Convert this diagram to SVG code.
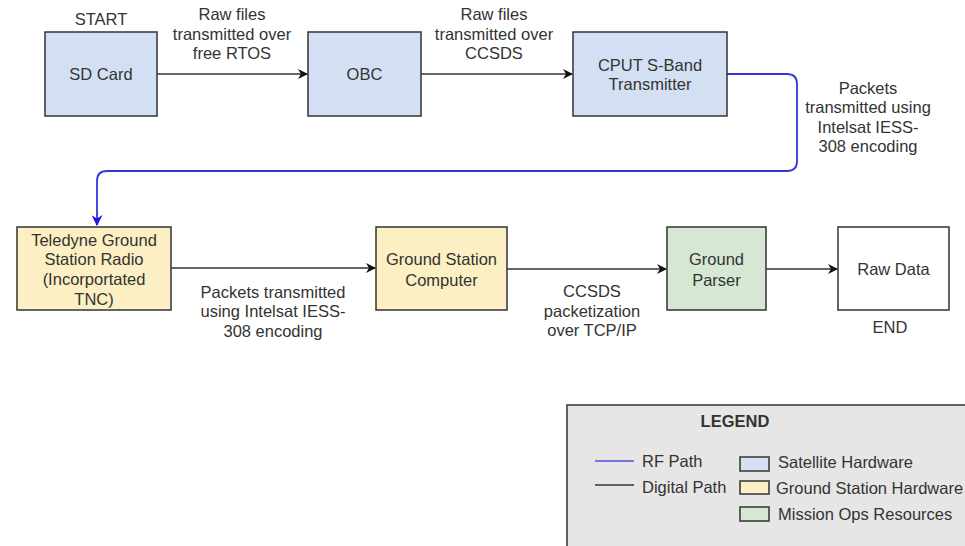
<svg xmlns="http://www.w3.org/2000/svg" width="965" height="546" viewBox="0 0 965 546">
<style>
text{font-family:"Liberation Sans",Arial,sans-serif;font-size:16.5px;fill:#333;text-anchor:middle;dominant-baseline:central}
.n{stroke:#333;stroke-width:1.5}
.sat{fill:#d3e0f3}
.gs{fill:#fbefc3}
.mo{fill:#d6e8d4}
.w{fill:#fff}
.dig{fill:none;stroke:#333;stroke-width:1.5}
.rf{fill:none;stroke:#3535dd;stroke-width:1.8}
.l{text-anchor:start}
</style>
<defs>
<marker id="ab" viewBox="0 0 10 10" refX="9" refY="5" markerWidth="10" markerHeight="10" markerUnits="userSpaceOnUse" orient="auto"><path d="M0,0 L10,5 L0,10 L3,5 Z" fill="#111"/></marker>
<marker id="ar" viewBox="0 0 10 10" refX="9" refY="5" markerWidth="11" markerHeight="11" markerUnits="userSpaceOnUse" orient="auto"><path d="M0,0 L10,5 L0,10 L3,5 Z" fill="#1a1add"/></marker>
</defs>
<rect width="965" height="546" fill="#fff"/>
<g id="connectors">
<line class="dig" x1="157" y1="74" x2="307" y2="74" marker-end="url(#ab)"/>
<line class="dig" x1="421" y1="74" x2="572" y2="74" marker-end="url(#ab)"/>
<path class="rf" d="M727,74 H787 Q797,74 797,84 V161 Q797,171 787,171 H107 Q97,171 97,181 V225" marker-end="url(#ar)"/>
<line class="dig" x1="171" y1="268" x2="375" y2="268" marker-end="url(#ab)"/>
<line class="dig" x1="507" y1="269" x2="666" y2="269" marker-end="url(#ab)"/>
<line class="dig" x1="766" y1="269" x2="837" y2="269" marker-end="url(#ab)"/>
<text x="232" y="14">Raw files</text>
<text x="232" y="34">transmitted over</text>
<text x="232" y="53">free RTOS</text>
<text x="494" y="14">Raw files</text>
<text x="494" y="34">transmitted over</text>
<text x="494" y="53">CCSDS</text>
<text x="868" y="88">Packets</text>
<text x="868" y="107">transmitted using</text>
<text x="868" y="127">Intelsat IESS-</text>
<text x="868" y="146">308 encoding</text>
<text x="273" y="292">Packets transmitted</text>
<text x="273" y="311">using Intelsat IESS-</text>
<text x="273" y="331">308 encoding</text>
<text x="592" y="291">CCSDS</text>
<text x="592" y="311">packetization</text>
<text x="592" y="330">over TCP/IP</text>
</g>
<g id="start"><text x="101" y="19">START</text></g>
<g id="sdcard"><rect class="n sat" x="45" y="32" width="112" height="84"/><text x="101" y="74">SD Card</text></g>
<g id="obc"><rect class="n sat" x="308" y="32" width="113" height="84"/><text x="364.5" y="74">OBC</text></g>
<g id="cput"><rect class="n sat" x="573" y="32" width="154" height="84"/><text x="650" y="65">CPUT S-Band</text><text x="650" y="84">Transmitter</text></g>
<g id="teledyne"><rect class="n gs" x="17" y="227" width="154" height="83"/><text x="94" y="240">Teledyne Ground</text><text x="94" y="259">Station Radio</text><text x="94" y="279">(Incorportated</text><text x="94" y="299">TNC)</text></g>
<g id="gsc"><rect class="n gs" x="376" y="227" width="131" height="83"/><text x="441.5" y="259">Ground Station</text><text x="441.5" y="280">Computer</text></g>
<g id="parser"><rect class="n mo" x="667" y="227" width="99" height="83"/><text x="716.5" y="259">Ground</text><text x="716.5" y="280">Parser</text></g>
<g id="rawdata"><rect class="n w" x="838" y="227" width="111" height="83"/><text x="893.5" y="269">Raw Data</text></g>
<g id="end"><text x="890" y="327">END</text></g>
<g id="legend">
<rect x="567" y="405" width="410" height="150" fill="#e6e6e6" stroke="#333" stroke-width="1.5"/>
<text x="735" y="421" style="font-weight:bold">LEGEND</text>
<line x1="595" y1="461" x2="634" y2="461" stroke="#5050e0" stroke-width="1.5"/>
<text class="l" x="642" y="461">RF Path</text>
<line x1="595" y1="485" x2="634" y2="485" stroke="#333" stroke-width="1.5"/>
<text class="l" x="642" y="487">Digital Path</text>
<rect class="n sat" x="740" y="457" width="29" height="14"/>
<rect class="n gs" x="740" y="481" width="29" height="13"/>
<rect class="n mo" x="740" y="507" width="29" height="14"/>
<text class="l" x="778" y="462">Satellite Hardware</text>
<text class="l" x="776" y="488">Ground Station Hardware</text>
<text class="l" x="778" y="514">Mission Ops Resources</text>
</g>
</svg>
